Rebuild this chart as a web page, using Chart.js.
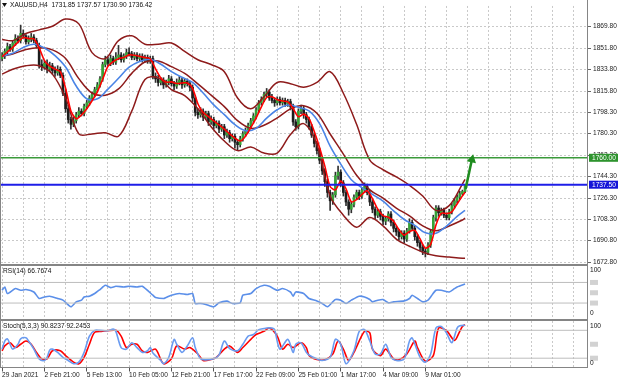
<!DOCTYPE html>
<html><head><meta charset="utf-8">
<script src="https://cdn.jsdelivr.net/npm/chart.js@4.4.1/dist/chart.umd.min.js"></script>
<style>
html,body{margin:0;padding:0;background:#fff;}
#wrap{position:relative;width:620px;height:384px;overflow:hidden;background:#fff;}
canvas{position:absolute;left:0;}
.ln{position:absolute;background:#858585;}
</style></head><body>
<div id="wrap">
<canvas id="main" width="620" height="270" style="top:0"></canvas>
<canvas id="rsi" width="620" height="56" style="top:264px"></canvas>
<canvas id="sto" width="620" height="64" style="top:320px"></canvas>
<div class="ln" style="left:0;top:264px;width:588px;height:2px;"></div>
<div class="ln" style="left:0;top:319px;width:588px;height:2px;"></div>
<div class="ln" style="left:0;top:367px;width:588px;height:1px;"></div>
<div class="ln" style="left:587px;top:0;width:1px;height:368px;"></div>
<div class="ln" style="left:0;top:0;width:1px;height:368px;"></div>
</div>
<script>
// ---------------- DATA ----------------
const symbolLabel = 'XAUUSD,H4';
const timeLabels = ['29 Jan 2021','2 Feb 21:00','5 Feb 13:00','10 Feb 05:00','12 Feb 21:00','17 Feb 17:00','22 Feb 09:00','25 Feb 01:00','1 Mar 17:00','4 Mar 09:00','9 Mar 01:00'];
const priceTicks = [1869.80,1851.80,1833.80,1815.80,1798.30,1780.30,1762.30,1744.30,1726.30,1708.30,1690.80,1672.80];

const opens = [1843,1846,1849,1853,1851,1856,1860,1858,1864,1862,
1857,1859,1861,1858,1854,1838,1836,1839,1834,1837,
1833,1831,1834,1829,1814,1801,1792,1788,1791,1796,
1799,1797,1803,1806,1810,1813,1817,1821,1826,1838,
1842,1839,1843,1840,1844,1846,1842,1845,1848,1847,
1844,1846,1843,1845,1842,1844,1841,1843,1828,1826,
1823,1825,1821,1823,1826,1822,1820,1823,1825,1821,
1824,1822,1819,1810,1798,1796,1799,1794,1797,1790,
1792,1787,1789,1784,1786,1779,1781,1776,1778,1773,
1771,1776,1780,1783,1787,1791,1795,1800,1806,1809,
1813,1815,1810,1808,1806,1809,1806,1808,1805,1807,
1803,1790,1786,1799,1801,1796,1792,1786,1779,1772,
1766,1758,1749,1740,1731,1724,1729,1745,1748,1739,
1731,1723,1717,1721,1727,1731,1728,1733,1736,1731,
1723,1717,1712,1715,1711,1707,1709,1713,1706,1701,
1698,1694,1697,1692,1699,1706,1701,1694,1689,1685,
1682,1681,1687,1698,1710,1718,1714,1716,1712,1710,
1715,1720,1724,1727,1730,1731.85];
const highs = [1848,1851,1856,1855,1858,1863,1862,1871,1867,1863,
1862,1864,1863,1860,1856,1842,1841,1842,1840,1839,
1836,1837,1836,1831,1817,1804,1794,1794,1798,1802,
1801,1805,1808,1812,1815,1819,1823,1828,1840,1845,
1844,1846,1845,1848,1854,1848,1847,1851,1852,1849,
1848,1848,1847,1847,1846,1846,1845,1845,1831,1829,
1827,1827,1825,1829,1828,1824,1826,1828,1827,1826,
1826,1824,1821,1812,1801,1802,1801,1799,1799,1795,
1794,1791,1791,1788,1788,1784,1783,1780,1780,1775,
1778,1782,1785,1789,1793,1797,1802,1808,1811,1815,
1818,1817,1813,1810,1811,1811,1810,1810,1809,1809,
1805,1792,1801,1804,1803,1798,1794,1788,1781,1774,
1768,1760,1751,1742,1733,1731,1748,1753,1750,1741,
1733,1725,1723,1729,1733,1733,1735,1739,1738,1733,
1725,1719,1717,1717,1713,1711,1715,1715,1708,1703,
1700,1699,1699,1701,1709,1708,1703,1696,1691,1687,
1684,1689,1700,1712,1720,1720,1718,1718,1714,1717,
1722,1726,1729,1732,1733,1737.57];
const lows = [1841,1843,1847,1849,1849,1854,1856,1856,1860,1855,
1855,1857,1856,1852,1835,1833,1834,1831,1832,1830,
1828,1829,1827,1812,1798,1789,1784,1786,1789,1794,
1795,1795,1801,1804,1808,1811,1815,1819,1824,1836,
1837,1837,1838,1838,1842,1840,1840,1843,1845,1842,
1842,1841,1841,1840,1840,1839,1839,1826,1823,1820,
1821,1818,1819,1821,1820,1817,1818,1821,1818,1819,
1820,1816,1807,1795,1793,1794,1791,1792,1787,1788,
1784,1785,1781,1782,1776,1777,1773,1774,1768,1766,
1769,1774,1778,1781,1785,1789,1793,1798,1804,1807,
1811,1808,1806,1803,1804,1804,1804,1803,1803,1800,
1787,1783,1784,1797,1793,1789,1784,1777,1769,1763,
1755,1746,1736,1727,1716,1721,1727,1742,1736,1728,
1720,1712,1714,1719,1725,1725,1726,1731,1729,1720,
1714,1709,1710,1708,1704,1704,1707,1703,1698,1695,
1691,1692,1689,1690,1697,1699,1691,1686,1682,1679,
1677,1679,1685,1696,1707,1711,1712,1710,1708,1708,
1713,1718,1722,1725,1729,1730.90];
const closes = [1846,1849,1853,1851,1856,1860,1858,1864,1862,1857,
1859,1861,1858,1854,1838,1836,1839,1834,1837,1833,
1831,1834,1829,1814,1801,1792,1788,1791,1796,1799,
1797,1803,1806,1810,1813,1817,1821,1826,1838,1842,
1839,1843,1840,1844,1846,1842,1845,1848,1847,1844,
1846,1843,1845,1842,1844,1841,1843,1828,1826,1823,
1825,1821,1823,1826,1822,1820,1823,1825,1821,1824,
1822,1819,1810,1798,1796,1799,1794,1797,1790,1792,
1787,1789,1784,1786,1779,1781,1776,1778,1773,1771,
1776,1780,1783,1787,1791,1795,1800,1806,1809,1813,
1815,1810,1808,1806,1809,1806,1808,1805,1807,1803,
1790,1786,1799,1801,1796,1792,1786,1779,1772,1766,
1758,1749,1740,1731,1724,1729,1745,1748,1739,1731,
1723,1717,1721,1727,1731,1728,1733,1736,1731,1723,
1717,1712,1715,1711,1707,1709,1713,1706,1701,1698,
1694,1697,1692,1699,1706,1701,1694,1689,1685,1682,
1681,1687,1698,1710,1718,1714,1716,1712,1710,1715,
1720,1724,1727,1730,1731.85,1736.42];

const bbBars   = [0,4,9,14,19,24,29,34,39,44,49,54,59,64,69,74,79,84,89,94,99,104,109,114,119,124,129,134,139,144,149,154,159,164,169,174,175];
const bbUpper  = [1859,1858,1864,1867,1870,1876,1872,1848,1843,1858,1862,1855,1855,1856,1849,1842,1838,1832,1810,1801,1811,1823,1822,1819,1823,1832,1814,1788,1758,1750,1744,1737,1728,1716,1720,1738,1742];
const bbMiddle = [1845,1846.8,1850.6,1852,1850.3,1843,1826.2,1814.2,1812.4,1817.6,1830.6,1840.1,1841,1836.2,1830.6,1821.8,1812.4,1802.8,1791.1,1784.7,1787.2,1793.4,1800.9,1803.6,1797.2,1779.9,1763.1,1745.4,1733.2,1726.2,1718,1711.4,1703,1699,1703,1708,1709.5];
const bbLower  = [1830,1834,1837,1837,1830,1810,1780,1780,1781,1778,1799,1825.5,1827,1817,1812,1801,1786,1774,1766,1769,1764,1764,1779.5,1788.6,1771,1728,1712,1702,1710,1703,1692,1686,1681,1678,1677,1676,1676];

const fastBars = [0,2,4,6,8,10,12,14,16,18,20,22,24,26,28,30,32,34,36,38,40,42,44,46,48,50,52,54,56,58,60,62,64,66,68,70,72,74,76,78,80,82,84,86,88,90,92,94,96,98,100,102,104,106,108,110,112,114,116,118,120,122,124,126,128,130,132,134,136,138,140,142,144,146,148,150,152,154,156,158,160,162,164,166,168,170,172,174,175];
const fastMA = [1844.5,1848.5,1852.2,1856.8,1860.7,1859.7,1859.4,1852,1841.3,1836.7,1834.2,1832,1818.2,1799.2,1792.6,1795.8,1801.1,1807.7,1815.2,1825.7,1836.4,1840.5,1842.9,1843.9,1846.1,1845.8,1844.8,1843.8,1842.8,1834.4,1826.8,1823.3,1823.5,1822.2,1822.6,1822.6,1818.1,1805.2,1797.8,1794.4,1790.8,1787.5,1784,1780,1776.5,1774,1778.1,1785.2,1793.2,1802.6,1810.4,1811,1808.6,1807.5,1806.8,1801.3,1794.3,1796.5,1793,1782,1768.7,1753,1736,1733.2,1740.5,1734.1,1723.2,1725,1729.3,1732.5,1725.8,1717.1,1711.7,1710.3,1706.9,1700,1695.3,1698.3,1699.3,1692.1,1684.4,1687.6,1703.7,1713.6,1713.3,1714.8,1721.4,1728.1,1731.3];

const slowBars = [0,4,8,12,16,20,24,28,32,36,40,44,48,52,56,60,64,68,72,76,80,84,88,92,96,100,104,108,112,116,120,124,128,132,136,140,144,148,152,156,160,164,168,172,175];
const slowMA = [1845,1847.4,1852.3,1855,1851.9,1845.5,1835.9,1820,1809.4,1809.3,1817.4,1826.5,1835.8,1840.6,1842.4,1838.2,1832.1,1827.3,1823.1,1814.2,1804.3,1796.1,1787.7,1782.7,1784.6,1793.2,1800.2,1804.1,1802.3,1799.2,1788.6,1769.7,1754.7,1741.7,1735.1,1729.4,1723.7,1715.6,1708.4,1703.5,1697.2,1696.9,1702.8,1711,1716];

const levelPrices = [1760.00, 1737.50];
const arrowBars = [175.2, 177.6];
const arrowPrices = [1734, 1758.5];

const rsiBars = [0,1,2,5,7,9,12,14,16,18,21,23,26,28,30,31,33,35,37,39,41,43,46,48,51,53,57,58,61,62,64,67,70,72,73,75,77,80,82,85,87,90,91,94,96,99,101,104,106,109,110,111,114,116,119,121,123,125,126,128,130,132,135,137,139,140,142,144,146,148,152,154,155,157,159,161,162,164,166,169,171,172,175];
const rsiValues = [54.8,61.2,48.5,58.1,54.8,56.2,51.5,38.8,41.9,43.3,38.8,35.6,22.7,32.3,35.6,41.9,43.3,48.5,56.2,64.4,60,62.5,61.2,62.5,61.2,62.5,45.2,40.8,38.8,40.8,45.2,48.5,46.5,48.5,29.2,29.2,27.3,22.7,30.4,33.7,29.2,30.4,45.2,48.5,58.1,64.4,62.5,54.8,58.1,51.5,43.3,51.5,48.5,38.8,34.2,29.2,22.7,32.3,36.9,35.6,29.2,35.6,43.3,41.9,36.9,32.3,35.6,36.9,30.4,32.3,34.2,38.8,45.2,38.8,32.3,35.6,41.9,54.8,54.8,51.5,58.1,61.2,66.77];
const rsiLevels = [70, 30];
const rsiReading = 66.7674;

const stochKBars = [0,1,2,3,4,6,7,9,10,12,14,16,17,18,19,21,23,25,27,29,31,33,35,37,40,42,43,45,47,49,51,53,55,56,57,60,61,63,65,66,68,70,72,73,75,77,80,82,84,86,89,91,93,95,97,100,102,103,105,108,110,111,113,115,116,119,121,124,126,128,130,133,135,137,139,141,143,145,147,149,152,154,155,158,160,162,164,166,168,170,172,173,175];
const stochK = [39.5,56.9,61.7,50,39.5,50,61.7,63.8,56.9,39.5,18.6,15.1,22,37.4,39.5,32.5,22,15.1,8.2,11.5,32.5,67.4,79.9,79.9,79.2,82.6,77.8,42.9,39.5,53.3,42.9,32.5,36,42.9,31.1,15.1,8.2,22,60.5,50,32.5,46.4,63.8,42.9,18.6,16.5,18.6,27,56.9,40.8,36,50,67.4,70.9,81.4,84.8,84.8,81.4,39.5,60.5,32.5,50,53,32.5,27,18.6,15.1,22,60.5,50,8.2,36,77.8,81.4,56.9,29.1,29.1,50,22,15.1,18.6,56.9,63.8,22,11.5,29.1,84.8,88.3,74.3,53.3,84.8,89.7,90.82];
const stochDBars = [0,1,3,5,7,9,11,13,15,17,19,22,24,27,29,31,33,35,38,43,45,47,49,51,53,55,58,61,64,66,69,71,74,76,79,81,84,86,89,91,94,96,99,101,104,106,108,110,113,115,116,119,122,125,127,129,131,133,137,139,140,143,145,148,150,153,156,157,160,163,165,168,171,173,174,175];
const stochD = [36,46.4,53.3,42.9,50,56.9,50,32.5,18.6,18.6,36,36,25.5,11.5,8.2,22,50,75.7,77.8,79.9,67.4,42.9,50,50,36,32.5,39.5,8.2,18.6,46.4,39.5,42.9,29.1,15.1,17.2,22,39.5,46.4,32.5,42.9,60.5,70.9,77.8,84.8,67.4,39.5,50,42.9,53.3,42.9,26,17.2,16.5,29.1,56.9,39.5,15.1,32.5,77.8,74.3,39.5,25.5,39.5,18.6,16.5,29.1,56.9,42.9,13.6,25.5,84.8,79.2,58.4,77.8,88.3,92.25];
const stochLevels = [80, 20];
const stochReading = [90.8237, 92.2453];

// ---------------- SETUP ----------------
const FONT = '"Liberation Sans", Arial, sans-serif';
const X_MIN = -0.8, X_MAX = 221.1;
const N = closes.length;
const GRID = '#c9c9c9';
const MAROON = '#8e1b1b';
const pts = (bx, vals) => bx.map((b, i) => ({x: b, y: vals[i]}));
const hline = v => [{x: X_MIN, y: v}, {x: X_MAX, y: v}];

function xScale(showLabels) {
  return {
    type: 'linear', min: X_MIN, max: X_MAX, offset: false,
    afterBuildTicks: s => { const t = []; for (let v = 0; v <= X_MAX; v += 8) t.push({value: v}); s.ticks = t; },
    ticks: showLabels ? {
      display: true, autoSkip: false, maxRotation: 0, minRotation: 0, align: 'start', padding: 0,
      font: {family: FONT, size: 6.6}, color: '#222',
      callback: v => (v % 16 === 0 && timeLabels[v / 16]) ? timeLabels[v / 16] : ''
    } : {display: false},
    grid: {
      color: GRID, lineWidth: 1, offset: false,
      drawTicks: !!showLabels, tickLength: 4,
      tickColor: c => (c.tick && c.tick.value % 16 === 0 && timeLabels[c.tick.value / 16]) ? '#555' : 'rgba(0,0,0,0)'
    },
    border: {display: false, dash: [2, 2]},
    afterFit: s => { s.height = showLabels ? 16.5 : 0; }
  };
}
function sideY(min, max) {
  return {
    type: 'linear', position: 'right', min, max,
    ticks: {display: false}, grid: {display: false}, border: {display: false},
    afterFit: s => { s.width = 33; }
  };
}
const baseOpts = {
  responsive: false, animation: false, devicePixelRatio: 1, events: [],
  plugins: {legend: {display: false}, tooltip: {enabled: false}}
};

// ---------------- MAIN ----------------
const bull = '#36a236', bear = '#1c1c1c', wickCol = '#303030';
const wicks = closes.map((c, i) => ({x: i, y: [lows[i], highs[i]]}));
const bodies = closes.map((c, i) => ({x: i, y: [opens[i], c]}));
const bodyColors = closes.map((c, i) => c >= opens[i] ? bull : bear);
const levelColors = ['#3a9a3a', '#1e1ee8'];
const levelBoxColors = ['#2e932e', '#1414d8'];

const mainDeco = {
  id: 'mainDeco',
  afterDraw(chart) {
    const {ctx} = chart; const y = chart.scales.y;
    ctx.save();
    ctx.fillStyle = '#111';
    ctx.beginPath(); ctx.moveTo(2, 3); ctx.lineTo(7, 3); ctx.lineTo(4.5, 7); ctx.closePath(); ctx.fill();
    ctx.font = '6.6px ' + FONT; ctx.textBaseline = 'middle'; ctx.textAlign = 'left';
    const title = symbolLabel + '  ' + [opens[N-1], highs[N-1], lows[N-1], closes[N-1]].map(v => v.toFixed(2)).join(' ');
    ctx.fillText(title, 10, 5.5);
    levelPrices.forEach((p, k) => {
      const py = y.getPixelForValue(p);
      ctx.fillStyle = levelBoxColors[k];
      ctx.fillRect(589, py - 4, 29, 8);
      ctx.fillStyle = '#fff';
      ctx.fillText(p.toFixed(2), 592, py + 0.5);
    });
    ctx.restore();
  }
};

new Chart(document.getElementById('main'), {
  type: 'bar',
  data: {datasets: [
    {type: 'bar', data: wicks, backgroundColor: wickCol, barThickness: 1, grouped: false, minBarLength: 1, order: 20},
    {type: 'bar', data: bodies, backgroundColor: bodyColors, barThickness: 2, grouped: false, minBarLength: 1, order: 19},
    {type: 'line', data: pts(bbBars, bbUpper), borderColor: MAROON, borderWidth: 1.5, pointRadius: 0, tension: 0.35, order: 10},
    {type: 'line', data: pts(bbBars, bbMiddle), borderColor: MAROON, borderWidth: 1.5, pointRadius: 0, tension: 0.35, order: 10},
    {type: 'line', data: pts(bbBars, bbLower), borderColor: MAROON, borderWidth: 1.5, pointRadius: 0, tension: 0.35, order: 10},
    {type: 'line', data: pts(slowBars, slowMA), borderColor: '#4a84e6', borderWidth: 1.6, pointRadius: 0, tension: 0.35, order: 8},
    {type: 'line', data: pts(fastBars, fastMA), borderColor: '#ff0000', borderWidth: 1.6, pointRadius: 0, tension: 0.25, order: 7},
    {type: 'line', data: hline(levelPrices[0]), borderColor: levelColors[0], borderWidth: 1.5, pointRadius: 0, order: 5},
    {type: 'line', data: hline(levelPrices[1]), borderColor: levelColors[1], borderWidth: 2, pointRadius: 0, order: 5},
    {type: 'line', data: pts(arrowBars, arrowPrices), borderColor: '#1f8c1f', borderWidth: 2.5,
     pointRadius: [0, 5.5], pointStyle: 'triangle', pointRotation: [0, 13], pointBackgroundColor: '#1f8c1f',
     pointBorderColor: '#1f8c1f', pointBorderWidth: 0, order: 1}
  ]},
  options: Object.assign({}, baseOpts, {
    layout: {autoPadding: false, padding: {top: 0, bottom: 7, left: 0, right: 0}},
    scales: {
      x: xScale(false),
      y: {
        type: 'linear', position: 'right', min: 1672.0, max: 1887.0,
        afterBuildTicks: s => { s.ticks = priceTicks.map(v => ({value: v})); },
        afterFit: s => { s.width = 33; },
        ticks: {autoSkip: false, padding: 2, color: '#222', font: {family: FONT, size: 6.6}, callback: v => Number(v).toFixed(2)},
        grid: {color: GRID, drawTicks: true, tickLength: 4, tickColor: '#666'},
        border: {display: false, dash: [2, 2]}
      }
    }
  }),
  plugins: [mainDeco]
});

// ---------------- RSI ----------------
const rsiDeco = {
  id: 'rsiDeco',
  afterDraw(chart) {
    const {ctx, chartArea: a} = chart; const y = chart.scales.y;
    ctx.save();
    ctx.font = '6.6px ' + FONT; ctx.textBaseline = 'middle'; ctx.textAlign = 'left'; ctx.fillStyle = '#111';
    ctx.fillText('RSI(14) ' + rsiReading.toFixed(4), 3, 7);
    ctx.fillText('100', 590, a.top + 3.5);
    ctx.fillText('0', 590, a.bottom - 5);
    ctx.fillStyle = '#d2d2d2';
    [70, 50, 30].forEach(v => { const py = y.getPixelForValue(v); ctx.fillRect(590, py - 2.5, 8, 5); });
    ctx.restore();
  }
};
new Chart(document.getElementById('rsi'), {
  type: 'line',
  data: {datasets: [
    {data: hline(rsiLevels[0]), borderColor: '#bdbdbd', borderWidth: 1, pointRadius: 0},
    {data: hline(rsiLevels[1]), borderColor: '#bdbdbd', borderWidth: 1, pointRadius: 0},
    {data: pts(rsiBars, rsiValues), borderColor: '#5b8fe9', borderWidth: 1.6, pointRadius: 0, tension: 0.2}
  ]},
  options: Object.assign({}, baseOpts, {
    layout: {autoPadding: false, padding: {top: 3, bottom: 1.5, left: 0, right: 0}},
    scales: {x: xScale(false), y: sideY(0, 100)}
  }),
  plugins: [rsiDeco]
});

// ---------------- STOCH ----------------
const stoDeco = {
  id: 'stoDeco',
  afterDraw(chart) {
    const {ctx, chartArea: a} = chart; const y = chart.scales.y;
    ctx.save();
    ctx.font = '6.6px ' + FONT; ctx.textBaseline = 'middle'; ctx.textAlign = 'left'; ctx.fillStyle = '#111';
    ctx.fillText('Stoch(5,3,3) ' + stochReading.map(v => v.toFixed(4)).join(' '), 3, 6);
    ctx.fillText('100', 590, a.top + 5);
    ctx.fillStyle = '#d2d2d2';
    [50, 20].forEach(v => { const py = y.getPixelForValue(v); ctx.fillRect(590, py - 2.5, 8, 5); });
    ctx.fillStyle = '#111';
    ctx.fillText('0', 590, a.bottom - 4);
    ctx.restore();
  }
};
new Chart(document.getElementById('sto'), {
  type: 'line',
  data: {datasets: [
    {data: hline(stochLevels[0]), borderColor: '#bdbdbd', borderWidth: 1, pointRadius: 0},
    {data: hline(stochLevels[1]), borderColor: '#bdbdbd', borderWidth: 1, pointRadius: 0},
    {data: pts(stochKBars, stochK), borderColor: '#6a9bf0', borderWidth: 1.6, pointRadius: 0, tension: 0.3},
    {data: pts(stochDBars, stochD), borderColor: '#ff0000', borderWidth: 1.6, pointRadius: 0, tension: 0.3}
  ]},
  options: Object.assign({}, baseOpts, {
    layout: {autoPadding: false, padding: {top: 1, bottom: 0, left: 0, right: 0}},
    scales: {x: xScale(true), y: sideY(0, 100)}
  }),
  plugins: [stoDeco]
});
</script>
</body></html>
